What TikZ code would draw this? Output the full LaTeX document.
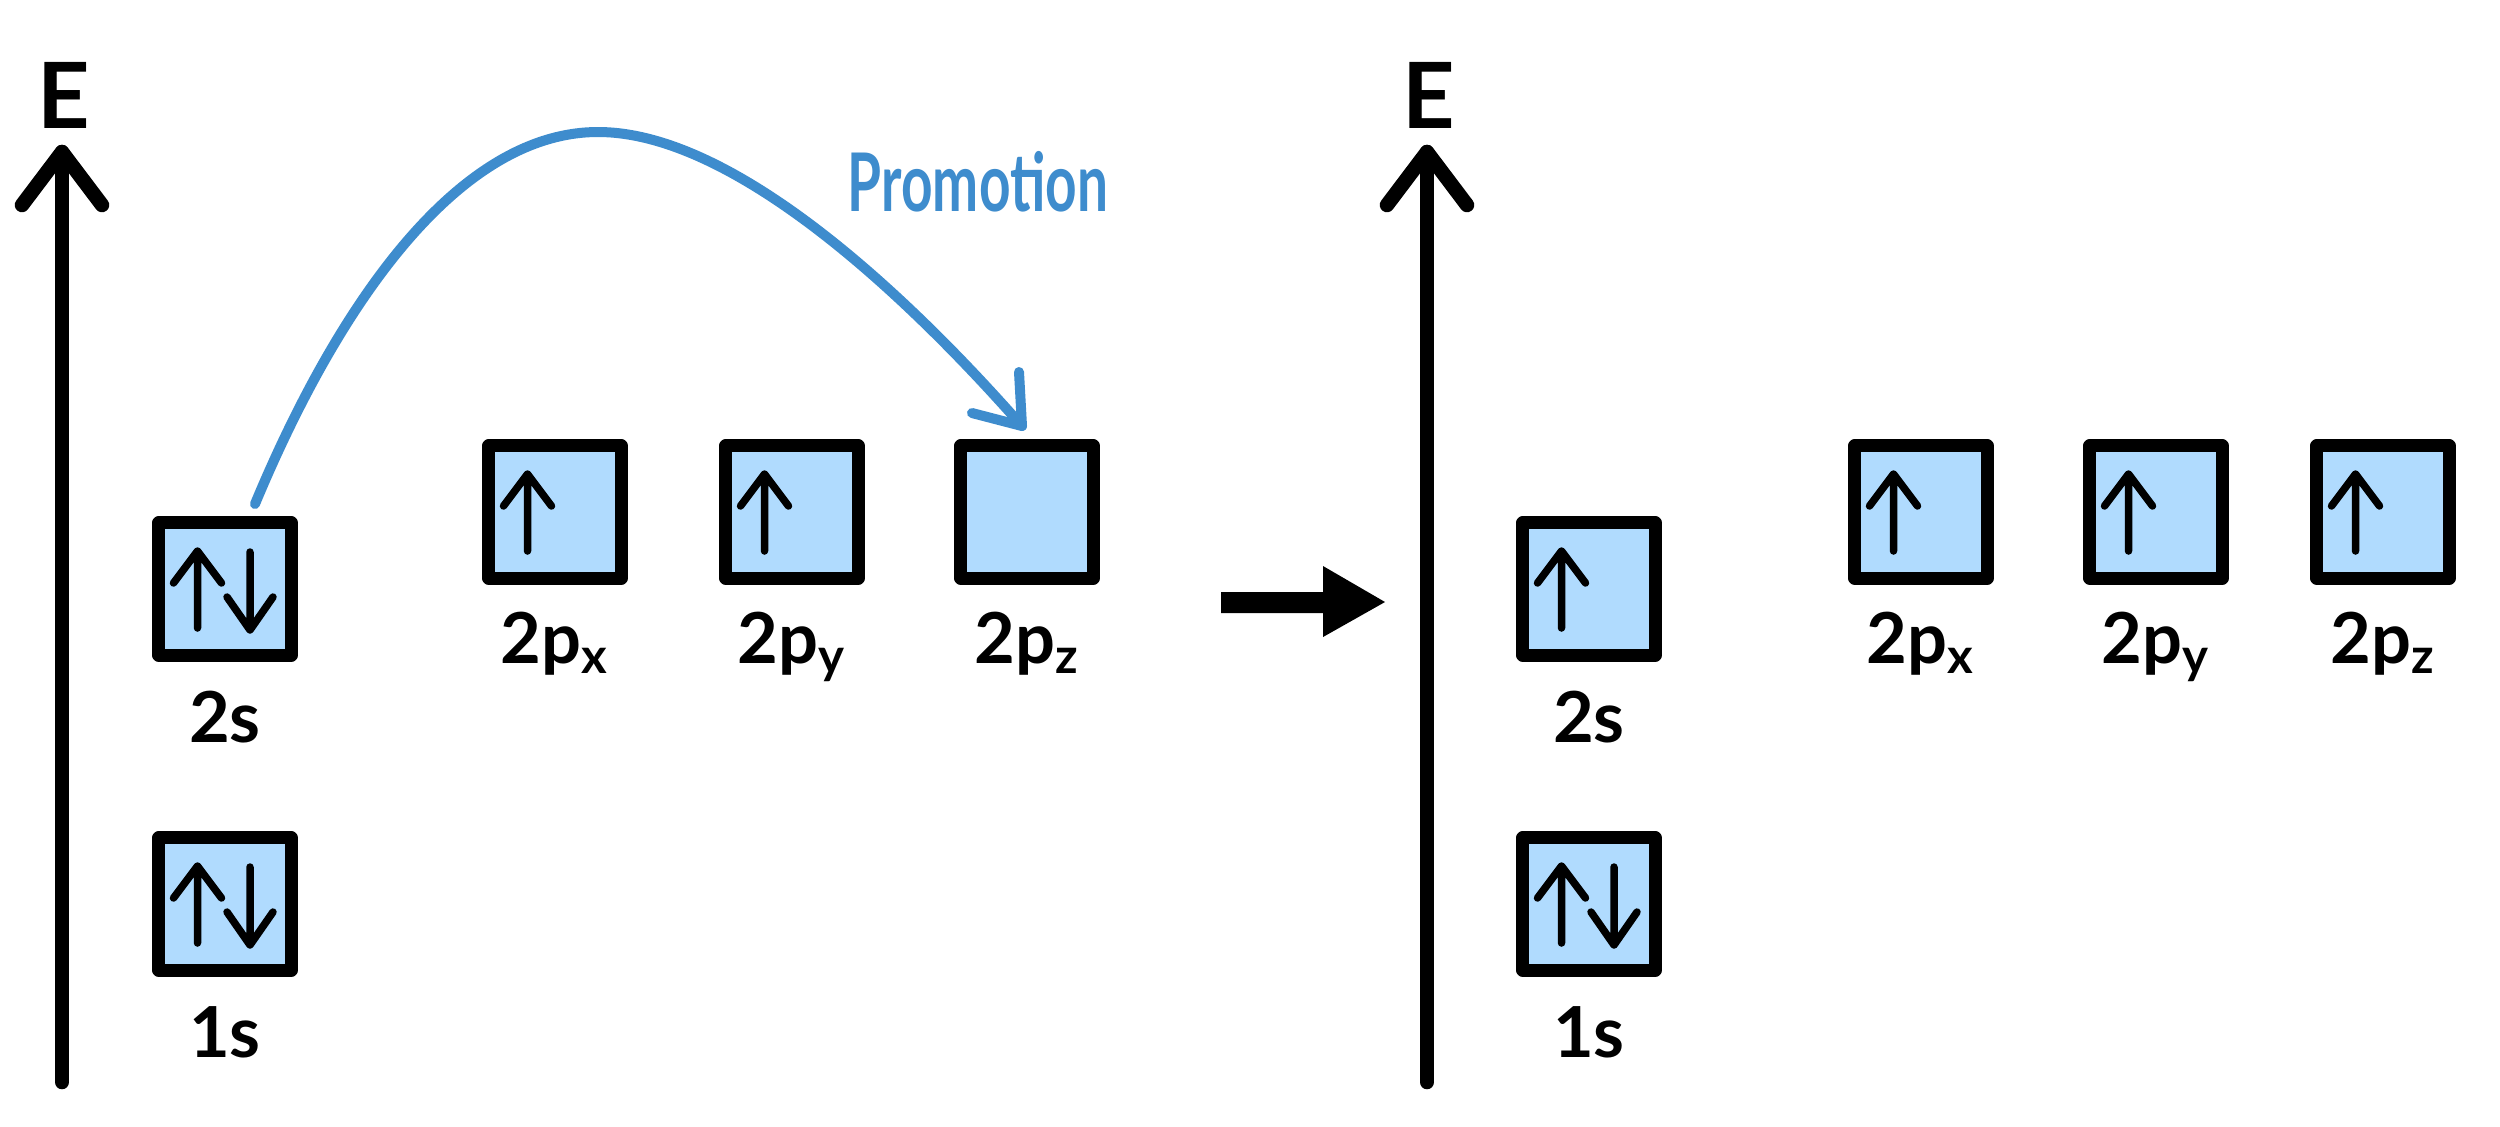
\documentclass[tikz,border=0pt]{standalone}
\usepackage{fontspec}
\setmainfont{Lato}
\usetikzlibrary{calc}
\definecolor{orbfill}{RGB}{176,219,254}
\definecolor{promo}{RGB}{62,140,205}
\begin{document}
\begin{tikzpicture}[x=0.01cm,y=-0.01cm,
  orb/.style={draw=black, fill=orbfill, line width=1.3mm, line join=round,
    minimum width=1.32cm, minimum height=1.32cm, inner sep=0pt, outer sep=0pt},
  spin/.style={line width=0.75mm, line cap=round, line join=round},
  upspin/.pic={\draw[spin] (0,39) -- (0,-38) (-24,-6) -- (0,-38) -- (24,-6);},
  downspin/.pic={\draw[spin] (0,-37) -- (0,41) (-23,8) -- (0,41) -- (23,8);},
  axis/.style={line width=1.45mm, line cap=round, line join=round},
  elabel/.style={font=\fontsize{26pt}{30pt}\selectfont\bfseries},
  olabel/.style={font=\fontsize{20pt}{24pt}\selectfont\bfseries, anchor=base, inner sep=0pt},
]
\useasboundingbox (0,0) rectangle (2500,1126);
\fill[white] (0,0) rectangle (2500,1126);

% ---------- left axis ----------
\coordinate (Lbot) at (62,1082);
\coordinate (Ltop) at (62,152);
\draw[axis] (Lbot) -- (Ltop);
\draw[axis] ($(Ltop)+(-40,53)$) -- (Ltop) -- ($(Ltop)+(40,53)$);
\node[elabel] (LE) at (64,95) {E};

% ---------- right axis ----------
\coordinate (Rbot) at (1427,1082);
\coordinate (Rtop) at (1427,152);
\draw[axis] (Rbot) -- (Rtop);
\draw[axis] ($(Rtop)+(-40,53)$) -- (Rtop) -- ($(Rtop)+(40,53)$);
\node[elabel] (RE) at (1429,95) {E};

% ---------- left orbitals ----------
\node[orb] (L1s)  at (225,904) {};
\node[orb] (L2s)  at (225,589) {};
\node[orb] (L2px) at (555,512) {};
\node[orb] (L2py) at (792,512) {};
\node[orb] (L2pz) at (1027,512) {};

\pic at ($(L1s)+(-27.5,0)$) {upspin};
\pic at ($(L1s)+(25,0)$) {downspin};
\pic at ($(L2s)+(-27.5,0)$) {upspin};
\pic at ($(L2s)+(25,0)$) {downspin};
\pic at ($(L2px)+(-27.5,0)$) {upspin};
\pic at ($(L2py)+(-27.5,0)$) {upspin};

\node[olabel] (L1sl)  at ($(L1s)+(0,153)$)  {1s};
\node[olabel] (L2sl)  at ($(L2s)+(0,153)$)  {2s};
\node[olabel] (L2pxl) at ($(L2px)+(0,151)$) {2p\textsubscript{x}};
\node[olabel] (L2pyl) at ($(L2py)+(0,151)$) {2p\textsubscript{y}};
\node[olabel] (L2pzl) at ($(L2pz)+(0,151)$) {2p\textsubscript{z}};

% ---------- promotion arrow ----------
\coordinate (pstart) at (255,504);
\coordinate (pend) at (1022,426);
\draw[promo, line width=1mm, line cap=round, line join=round]
  (pstart) .. controls (340,300) and (460,132) .. (598,132)
           .. controls (740,132) and (920,310) .. (pend);
\draw[promo, line width=1mm, line cap=round, line join=round]
  ($(pend)+(-3,-54)$) -- (pend) -- ($(pend)+(-50,-13)$);
\node[promo, font=\fontsize{23pt}{27pt}\selectfont\bfseries] (promlabel) at (978,182)
  {\scalebox{0.68}[1]{Promotion}};

% ---------- big arrow ----------
\fill[black] (1221,592) -- (1323,592) -- (1323,566) -- (1385,602) -- (1323,637)
  -- (1323,613) -- (1221,613) -- cycle;

% ---------- right orbitals ----------
\node[orb] (R1s)  at (1589,904) {};
\node[orb] (R2s)  at (1589,589) {};
\node[orb] (R2px) at (1921,512) {};
\node[orb] (R2py) at (2156,512) {};
\node[orb] (R2pz) at (2383,512) {};

\pic at ($(R1s)+(-27.5,0)$) {upspin};
\pic at ($(R1s)+(25,0)$) {downspin};
\pic at ($(R2s)+(-27.5,0)$) {upspin};
\pic at ($(R2px)+(-27.5,0)$) {upspin};
\pic at ($(R2py)+(-27.5,0)$) {upspin};
\pic at ($(R2pz)+(-27.5,0)$) {upspin};

\node[olabel] (R1sl)  at ($(R1s)+(0,153)$)  {1s};
\node[olabel] (R2sl)  at ($(R2s)+(0,153)$)  {2s};
\node[olabel] (R2pxl) at ($(R2px)+(0,151)$) {2p\textsubscript{x}};
\node[olabel] (R2pyl) at ($(R2py)+(0,151)$) {2p\textsubscript{y}};
\node[olabel] (R2pzl) at ($(R2pz)+(0,151)$) {2p\textsubscript{z}};
\end{tikzpicture}
\end{document}
